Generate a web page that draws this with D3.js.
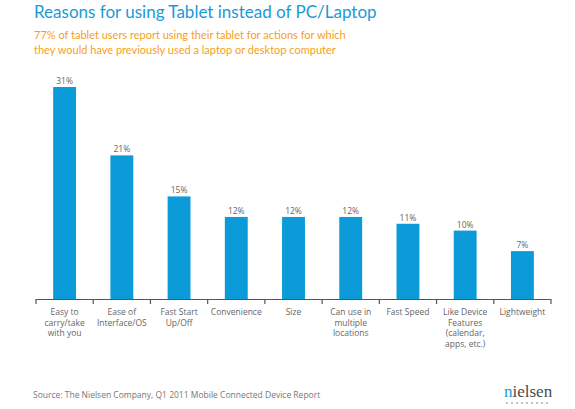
<!DOCTYPE html>
<html>
<head>
<meta charset="utf-8">
<script src="https://cdn.jsdelivr.net/npm/d3@7"></script>
<style>
  body { margin: 0; background: #fff; }
  svg { display: block; font-family: 'Open Sans', sans-serif; }
</style>
</head>
<body>
<svg id="chart" width="575" height="409"></svg>
<script>
const categories = [
  ['Easy to', 'carry/take', 'with you'],
  ['Ease of', 'Interface/OS'],
  ['Fast Start', 'Up/Off'],
  ['Convenience'],
  ['Size'],
  ['Can use in', 'multiple', 'locations'],
  ['Fast Speed'],
  ['Like Device', 'Features', '(calendar,', 'apps, etc.)'],
  ['Lightweight']
]
const values = [31, 21, 15, 12, 12, 12, 11, 10, 7]
const valueLabels = ['31%', '21%', '15%', '12%', '12%', '12%', '11%', '10%', '7%']

const title = 'Reasons for using Tablet instead of PC/Laptop'
const subtitle = [
  '77% of tablet users report using their tablet for actions for which',
  'they would have previously used a laptop or desktop computer'
]
const source = 'Source: The Nielsen Company, Q1 2011 Mobile Connected Device Report'

const svg = d3.select('#chart')
const keys = categories.map((d, i) => i)

const x = d3.scaleBand().domain(keys).range([36, 551]).paddingInner(0.6).paddingOuter(0.3)
const y = d3.scaleLinear().domain([0, 31]).range([299, 87])

// title + subtitle
svg.append('text')
  .text(title)
  .attr('x', 34)
  .attr('y', 18)
  .attr('font-family', 'Lato, sans-serif')
  .attr('font-size', '17px')
  .attr('fill', '#1a9ad6')

svg.append('g')
  .selectAll('text')
  .data(subtitle)
  .join('text')
  .text(d => d)
  .attr('x', 34)
  .attr('y', (d, i) => 39 + i * 15)
  .attr('font-family', 'Lato, sans-serif')
  .attr('font-size', '11px')
  .attr('fill', '#f6a01a')

// bars
svg.append('g')
  .selectAll('rect')
  .data(values)
  .join('rect')
  .attr('x', (d, i) => x(i))
  .attr('y', d => y(d))
  .attr('width', x.bandwidth())
  .attr('height', d => y(0) - y(d))
  .attr('fill', '#0a9bd8')

// value labels
svg.append('g')
  .selectAll('text')
  .data(values)
  .join('text')
  .text((d, i) => valueLabels[i])
  .attr('x', (d, i) => x(i) + x.bandwidth() / 2)
  .attr('y', d => y(d) - 3)
  .attr('text-anchor', 'middle')
  .attr('font-size', '8.5px')
  .attr('fill', '#666')

// x axis: baseline with ticks at band boundaries
const step = x.step()
const edges = d3.range(keys.length + 1).map(i => 36 + i * step)
const axis = svg.append('g').attr('stroke', '#555').attr('stroke-width', 1.2)
axis.append('line')
  .attr('x1', edges[0]).attr('x2', edges[edges.length - 1])
  .attr('y1', y(0) + 0.5).attr('y2', y(0) + 0.5)
axis.selectAll('line.tick')
  .data(edges)
  .join('line')
  .attr('class', 'tick')
  .attr('x1', d => d).attr('x2', d => d)
  .attr('y1', y(0)).attr('y2', y(0) + 5)

// category labels
const labels = svg.append('g')
  .selectAll('text')
  .data(categories)
  .join('text')
  .attr('x', (d, i) => x(i) + x.bandwidth() / 2)
  .attr('y', 315)
  .attr('text-anchor', 'middle')
  .attr('font-size', '8.5px')
  .attr('fill', '#666')
labels.selectAll('tspan')
  .data(d => d)
  .join('tspan')
  .text(d => d)
  .attr('x', function () { return this.parentNode.getAttribute('x') })
  .attr('dy', (d, i) => i === 0 ? 0 : 10.5)

// source
svg.append('text')
  .text(source)
  .attr('x', 33)
  .attr('y', 398)
  .attr('font-size', '8.5px')
  .attr('fill', '#777')

// logo
const logo = svg.append('text')
  .attr('x', 504)
  .attr('y', 397)
  .attr('font-family', "'Liberation Serif', serif")
  .attr('font-size', '17px')
  .attr('fill', '#4a4a4a')
logo.append('tspan').text('n').attr('fill', '#1a9ad6')
logo.append('tspan').text('ielsen')
svg.append('g')
  .selectAll('circle')
  .data(d3.range(9))
  .join('circle')
  .attr('cx', d => 507 + d * 5)
  .attr('cy', 403)
  .attr('r', 0.8)
  .attr('fill', '#777')
</script>
</body>
</html>
